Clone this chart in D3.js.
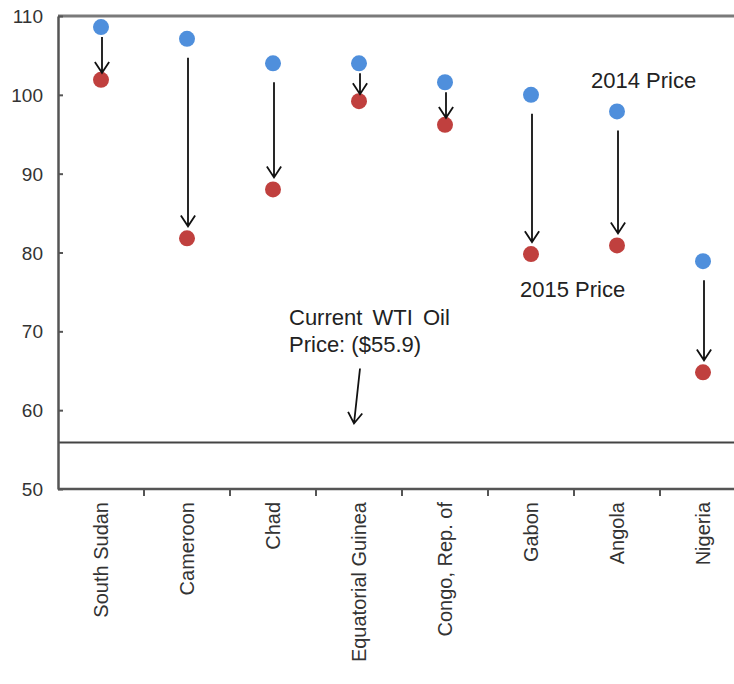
<!DOCTYPE html>
<html>
<head>
<meta charset="utf-8">
<script src="https://cdn.jsdelivr.net/npm/d3@7"></script>
<style>
  html, body { margin: 0; padding: 0; background: #fff; }
  svg { display: block; font-family: "Liberation Sans", Arial, sans-serif; }
</style>
</head>
<body>
<svg width="734" height="684"></svg>
<script>
const countries = ['South Sudan', 'Cameroon', 'Chad', 'Equatorial Guinea', 'Congo, Rep. of', 'Gabon', 'Angola', 'Nigeria']
const price2014 = [108.6, 107.1, 104.0, 104.0, 101.6, 100.0, 97.9, 78.9]
const price2015 = [101.9, 81.8, 88.0, 99.2, 96.2, 79.8, 80.9, 64.8]
const yTicks = [50, 60, 70, 80, 90, 100, 110]
const wtiPrice = 55.9

const margin = {top: 16, left: 58, bottom: 195}
const width = 734
const height = 684
const bandWidth = 86

const data = countries.map((name, i) => ({name, p14: price2014[i], p15: price2015[i]}))

const svg = d3.select('svg')

const x = d3.scaleBand()
  .domain(countries)
  .range([margin.left, margin.left + bandWidth * countries.length])

const y = d3.scaleLinear()
  .domain([50, 110])
  .range([height - margin.bottom, margin.top])

// top border
svg.append('line')
  .attr('x1', margin.left).attr('x2', width)
  .attr('y1', y(110)).attr('y2', y(110))
  .attr('stroke', '#7a7a7a').attr('stroke-width', 3)

// WTI reference line
svg.append('line')
  .attr('x1', margin.left).attr('x2', width)
  .attr('y1', y(wtiPrice)).attr('y2', y(wtiPrice))
  .attr('stroke', '#444').attr('stroke-width', 2)

const yAxis = g =>
  g.attr('transform', `translate(${margin.left}, 0)`)
   .call(d3.axisRight(y).tickValues(yTicks).tickSize(5).tickSizeOuter(0).tickFormat(d3.format('d')))
   .call(g => g.select('.domain').attr('stroke', '#555').attr('stroke-width', 2.5))
   .call(g => g.selectAll('.tick line').attr('stroke', '#555').attr('stroke-width', 2))
   .call(g => g.selectAll('.tick text')
     .attr('x', -15).attr('text-anchor', 'end').attr('dy', '0.35em')
     .attr('fill', '#333').style('font-size', '19px').style('font-family', '"Liberation Sans", Arial, sans-serif'))

const xAxis = g =>
  g.attr('transform', `translate(0, ${y(50)})`)
   .call(d3.axisBottom(x).tickSize(0).tickSizeOuter(0))
   .call(g => g.select('.domain').attr('d', `M${margin.left},0H${width}`).attr('stroke', '#555').attr('stroke-width', 2.5))
   .call(g => g.selectAll('.tick text')
     .attr('transform', 'rotate(-90)')
     .attr('x', -13).attr('y', 0).attr('dy', '0.35em')
     .attr('text-anchor', 'end')
     .attr('fill', '#333').style('font-size', '20px').style('font-family', '"Liberation Sans", Arial, sans-serif'))

svg.append('g').attr('class', 'y-axis').call(yAxis)
svg.append('g').attr('class', 'x-axis').call(xAxis)

// category separators below the axis
svg.append('g')
  .selectAll('line')
  .data(countries.slice(1))
  .join('line')
    .attr('x1', d => x(d)).attr('x2', d => x(d))
    .attr('y1', y(50)).attr('y2', y(50) + 7)
    .attr('stroke', '#555').attr('stroke-width', 2)

function arrow(g, x1, y1, x2, y2) {
  const ang = Math.atan2(y2 - y1, x2 - x1)
  const len = 13, spread = 0.58
  const p = a => [x2 - len * Math.cos(ang + a), y2 - len * Math.sin(ang + a)]
  const a1 = p(spread), a2 = p(-spread)
  g.append('path')
    .attr('d', `M${x1},${y1}L${x2},${y2}M${a1[0]},${a1[1]}L${x2},${y2}L${a2[0]},${a2[1]}`)
    .attr('fill', 'none')
    .attr('stroke', '#111')
    .attr('stroke-width', 1.8)
}

const cx = d => x(d.name) + x.bandwidth() / 2

const marks = svg.append('g').attr('class', 'marks')

marks.selectAll('g.mark')
  .data(data)
  .join('g')
    .classed('mark', true)
    .each(function (d) {
      const g = d3.select(this)
      const gap = y(d.p15) - y(d.p14)
      const start = y(d.p14) + (gap > 60 ? 19 : 10)
      const end = y(d.p15) - (gap > 60 ? 12 : 7)
      g.append('circle')
        .attr('cx', cx(d)).attr('cy', y(d.p14)).attr('r', 8)
        .attr('fill', '#4f8fdc')
      g.append('circle')
        .attr('cx', cx(d)).attr('cy', y(d.p15)).attr('r', 8)
        .attr('fill', '#c0403e')
      arrow(g, cx(d) + 1, start, cx(d) + 1, end)
    })

// annotations
const ann = svg.append('g')
  .attr('fill', '#222')
  .style('font-size', '22px')

ann.append('text')
  .attr('x', x('Angola') + x.bandwidth() / 2 - 26)
  .attr('y', 88)
  .text('2014 Price')

ann.append('text')
  .attr('x', x('Gabon') + x.bandwidth() / 2 - 11)
  .attr('y', 297)
  .text('2015 Price')

const wtiX = x('Equatorial Guinea') + x.bandwidth() / 2
ann.append('text')
  .attr('x', wtiX - 70)
  .attr('y', 325)
  .attr('word-spacing', '4')
  .text('Current WTI Oil')
ann.append('text')
  .attr('x', wtiX - 70)
  .attr('y', 352)
  .text('Price: ($55.9)')

arrow(svg, wtiX + 1, y(wtiPrice) - 74, wtiX - 5, y(wtiPrice) - 19)
</script>
</body>
</html>
